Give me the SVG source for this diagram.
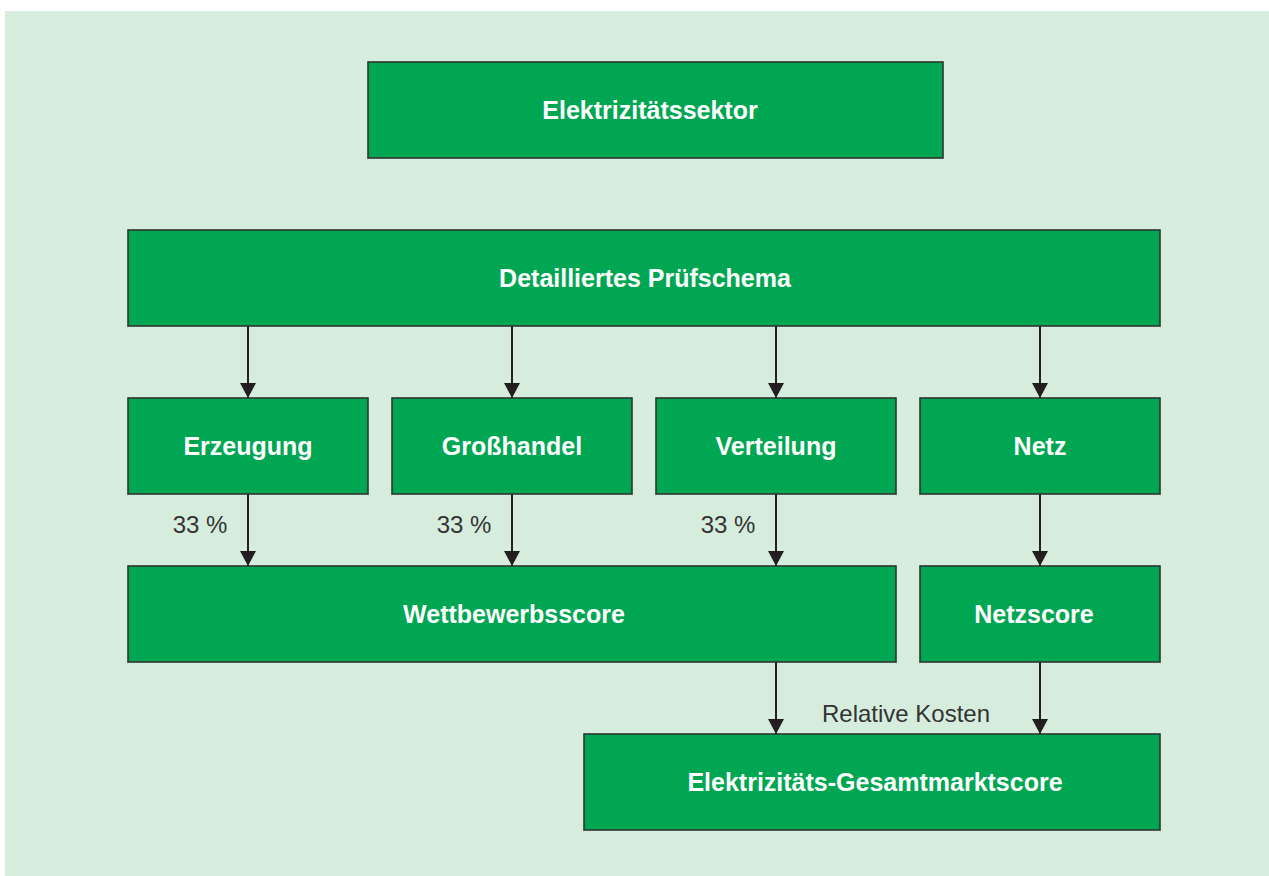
<svg xmlns="http://www.w3.org/2000/svg" width="1269" height="876" viewBox="0 0 1269 876">
<defs>
<style>
.box{fill:#00A651;stroke:#2E3532;stroke-width:1.6}
.lbl{font-family:"Liberation Sans",Arial,sans-serif;font-weight:bold;font-size:25px;fill:#FFFFFF;text-anchor:middle}
.note{font-family:"Liberation Sans",Arial,sans-serif;font-size:24px;fill:#333333}
.conn{stroke:#231F20;stroke-width:2;fill:none;marker-end:url(#arr)}
</style>
<marker id="arr" viewBox="0 0 15 16" refX="15" refY="8" markerWidth="15" markerHeight="16" markerUnits="userSpaceOnUse" orient="auto">
<path d="M0,0 L15,8 L0,16 Z" fill="#231F20"/>
</marker>
</defs>
<rect x="5" y="11" width="1264" height="865" fill="#D6EDDD"/>
<g id="connectors">
<path class="conn" d="M248,326 V398"/>
<path class="conn" d="M512,326 V398"/>
<path class="conn" d="M776,326 V398"/>
<path class="conn" d="M1040,326 V398"/>
<path class="conn" d="M248,494 V566"/>
<path class="conn" d="M512,494 V566"/>
<path class="conn" d="M776,494 V566"/>
<path class="conn" d="M1040,494 V566"/>
<path class="conn" d="M776,662 V734"/>
<path class="conn" d="M1040,662 V734"/>
</g>
<g id="n-sektor"><rect class="box" x="368" y="62" width="575" height="96"/><text class="lbl" x="650" y="119">Elektrizitätssektor</text></g>
<g id="n-pruef"><rect class="box" x="128" y="230" width="1032" height="96"/><text class="lbl" x="645" y="287">Detailliertes Prüfschema</text></g>
<g id="n-erz"><rect class="box" x="128" y="398" width="240" height="96"/><text class="lbl" x="248" y="455">Erzeugung</text></g>
<g id="n-gross"><rect class="box" x="392" y="398" width="240" height="96"/><text class="lbl" x="512" y="455">Großhandel</text></g>
<g id="n-vert"><rect class="box" x="656" y="398" width="240" height="96"/><text class="lbl" x="776" y="455">Verteilung</text></g>
<g id="n-netz"><rect class="box" x="920" y="398" width="240" height="96"/><text class="lbl" x="1040" y="455">Netz</text></g>
<g id="n-wett"><rect class="box" x="128" y="566" width="768" height="96"/><text class="lbl" x="514" y="623">Wettbewerbsscore</text></g>
<g id="n-netzscore"><rect class="box" x="920" y="566" width="240" height="96"/><text class="lbl" x="1034" y="623">Netzscore</text></g>
<g id="n-gesamt"><rect class="box" x="584" y="734" width="576" height="96"/><text class="lbl" x="875" y="791">Elektrizitäts-Gesamtmarktscore</text></g>
<g id="labels">
<text class="note" x="200" y="533" text-anchor="middle">33 %</text>
<text class="note" x="464" y="533" text-anchor="middle">33 %</text>
<text class="note" x="728" y="533" text-anchor="middle">33 %</text>
<text class="note" x="906" y="722" text-anchor="middle">Relative Kosten</text>
</g>
</svg>
